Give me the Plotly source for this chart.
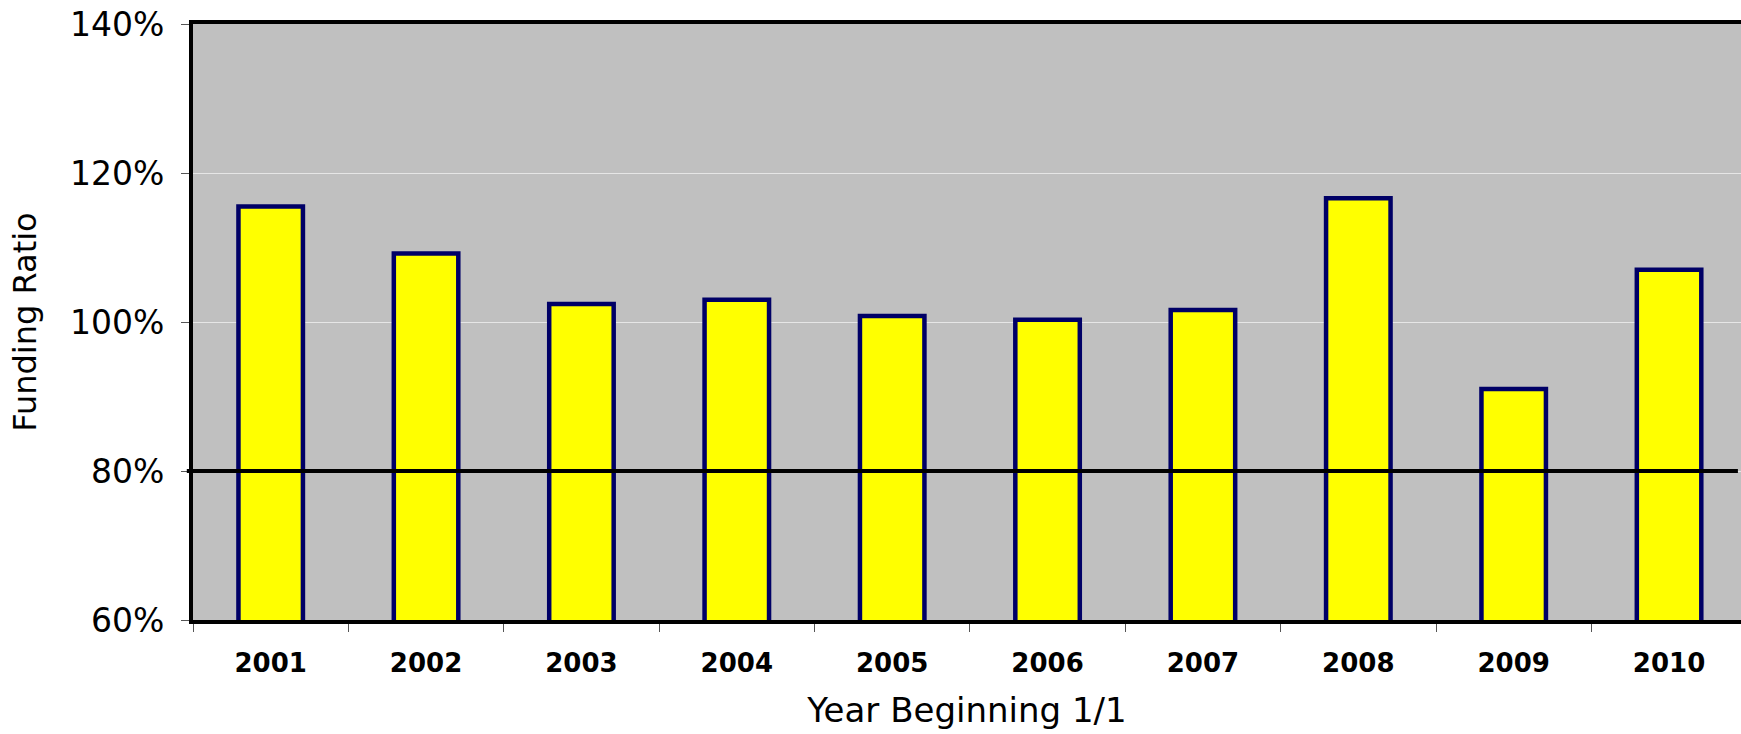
import plotly.graph_objects as go

years = ["2001", "2002", "2003", "2004", "2005", "2006", "2007", "2008", "2009", "2010"]
funding_ratio = [115.5, 109.2, 102.4, 103.0, 100.8, 100.3, 101.6, 116.6, 91.0, 107.0]
threshold = 80
y_ticks = [60, 80, 100, 120, 140]
y_tick_labels = ["60%", "80%", "100%", "120%", "140%"]

FONT = "DejaVu Sans"

fig = go.Figure()
fig.add_trace(go.Bar(
    x=years,
    y=funding_ratio,
    width=0.415,
    marker=dict(color="#FFFF00", line=dict(color="#000066", width=4.5)),
    showlegend=False,
))

fig.add_shape(type="line", xref="paper", yref="y", x0=-0.004, x1=0.998,
              y0=threshold, y1=threshold, line=dict(color="black", width=4), layer="above")

fig.update_layout(
    width=1741, height=734,
    margin=dict(l=193, r=0, t=24, b=114, pad=0),
    paper_bgcolor="white",
    plot_bgcolor="#C0C0C0",
    font=dict(family=FONT, color="black"),
    bargap=0.585,
)

fig.update_xaxes(
    type="category",
    range=[-0.5, 9.463],
    showline=True, linecolor="black", linewidth=4, mirror=True,
    ticks="outside", ticklen=8, tickwidth=1, tickcolor="#555555",
    tickson="boundaries",
    tickfont=dict(family=FONT, size=26, color="black", weight="bold"),
    ticklabelstandoff=17,
    showgrid=False,
    title=dict(text="Year Beginning 1/1", font=dict(family=FONT, size=34, color="black"), standoff=22),
)

fig.update_yaxes(
    range=[60, 140],
    tickvals=y_ticks, ticktext=y_tick_labels,
    showline=True, linecolor="black", linewidth=4, mirror=False,
    ticks="outside", ticklen=8, tickwidth=1, tickcolor="#555555",
    tickfont=dict(family=FONT, size=33, color="black"),
    ticklabelstandoff=10,
    showgrid=True, gridcolor="#E6E6E6", gridwidth=1,
    zeroline=False,
    title=dict(text="Funding Ratio", font=dict(family=FONT, size=32, color="black"), standoff=25),
)

fig.write_html("out.html")
